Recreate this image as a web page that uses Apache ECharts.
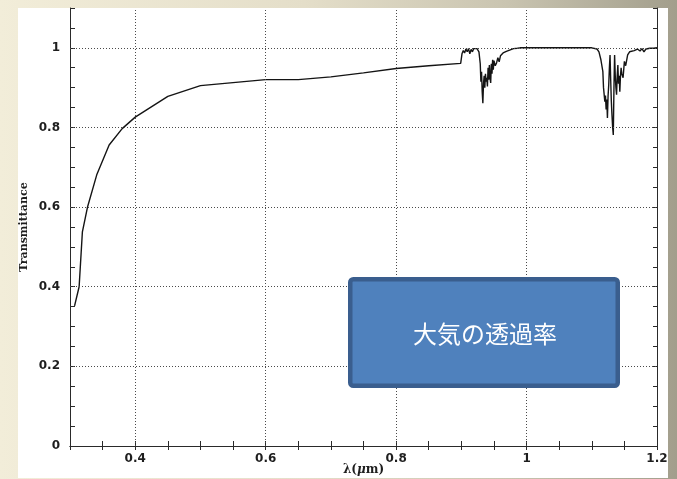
<!DOCTYPE html>
<html>
<head>
<meta charset="utf-8">
<script src="https://cdn.jsdelivr.net/npm/echarts@6/dist/echarts.min.js"></script>
<style>
  html, body { margin: 0; padding: 0; }
  body {
    width: 677px; height: 479px; overflow: hidden; position: relative;
    background: linear-gradient(to right, #f2edd9 0%, #e4dec9 45%, #c9c4b0 75%, #a29e8c 100%);
  }
  #panel { position: absolute; left: 18px; top: 8px; width: 650px; height: 470px; background: #ffffff; }
  #chart { position: absolute; left: 0; top: 0; width: 677px; height: 479px; }
</style>
</head>
<body>
<div id="panel"></div>
<div id="chart"></div>
<script>
// Wavelength (µm) and atmospheric transmittance
const wavelength = [
  0.307, 0.310, 0.314, 0.319, 0.327, 0.341, 0.360, 0.380, 0.400, 0.450,
  0.500, 0.600, 0.650, 0.700, 0.750, 0.800, 0.850, 0.899,
  0.901, 0.903, 0.905, 0.907, 0.909, 0.911, 0.913, 0.915, 0.917, 0.919,
  0.921, 0.924, 0.927, 0.929, 0.930, 0.931, 0.932, 0.933, 0.934, 0.935,
  0.936, 0.937, 0.938, 0.939, 0.940, 0.941, 0.942, 0.943, 0.944, 0.945,
  0.946, 0.947, 0.948, 0.949, 0.950, 0.952, 0.954, 0.956, 0.958, 0.960,
  0.962, 0.964, 0.966, 0.969, 0.972, 0.975, 0.980, 0.986, 0.990, 1.050,
  1.100, 1.108, 1.111, 1.114, 1.115, 1.117, 1.118, 1.120, 1.121, 1.122,
  1.123, 1.124, 1.125, 1.126, 1.127, 1.128, 1.129, 1.130, 1.131, 1.132,
  1.133, 1.134, 1.135, 1.136, 1.137, 1.138, 1.139, 1.140, 1.141, 1.142,
  1.143, 1.144, 1.145, 1.146, 1.148, 1.150, 1.152, 1.153, 1.155, 1.158,
  1.161, 1.165, 1.170, 1.174, 1.177, 1.180, 1.183, 1.186, 1.189, 1.192,
  1.195, 1.198, 1.200
];
const transmittance = [
  0.352, 0.356, 0.400, 0.538, 0.601, 0.681, 0.756, 0.797, 0.826, 0.878,
  0.905, 0.920, 0.920, 0.927, 0.937, 0.948, 0.955, 0.961,
  0.985, 0.993, 0.987, 0.997, 0.990, 0.998, 0.985, 0.996, 0.990, 0.998,
  0.995, 0.998, 0.990, 0.960, 0.915, 0.940, 0.890, 0.861, 0.910, 0.930,
  0.900, 0.935, 0.915, 0.925, 0.903, 0.950, 0.920, 0.957, 0.925, 0.912,
  0.960, 0.935, 0.970, 0.945, 0.968, 0.955, 0.962, 0.975, 0.965, 0.980,
  0.975, 0.987, 0.982, 0.991, 0.988, 0.995, 0.998, 0.999, 1.000, 1.000,
  1.000, 0.997, 0.990, 0.970, 0.960, 0.940, 0.900, 0.865, 0.880, 0.845,
  0.870, 0.824, 0.880, 0.907, 0.950, 0.982, 0.920, 0.865, 0.830, 0.800,
  0.781, 0.900, 0.982, 0.930, 0.900, 0.882, 0.930, 0.957, 0.910, 0.930,
  0.890, 0.930, 0.950, 0.935, 0.925, 0.966, 0.955, 0.950, 0.982, 0.990,
  0.995, 0.993, 0.997, 0.992, 0.998, 0.990, 0.997, 0.993, 0.999, 0.994,
  0.999, 0.997, 1.000
];
// Dotted grid positions
const gridX = [0.4, 0.6, 0.8, 1.0];
const gridY = [0.2, 0.4, 0.6, 0.8, 1.0];
const boxLabel = '大気の透過率';
const yName = 'Transmittance';

const seriesData = wavelength.map((w, i) => [w, transmittance[i]]);

const axisColor = '#2a2a2a';
const labelStyle = {
  color: '#1e1e1e', fontFamily: 'DejaVu Sans', fontWeight: 'bold', fontSize: 12
};
function fmt(v) {
  const r = Math.round(v * 100);
  return (r % 20 === 0) ? String(r / 100) : '';
}
function xFmt(v) {
  const r = Math.round(v * 100);
  return (r % 20 === 0 && r >= 40) ? String(r / 100) : '';
}

const chart = echarts.init(document.getElementById('chart'), null, { renderer: 'canvas' });
chart.setOption({
  animation: false,
  backgroundColor: 'transparent',
  grid: { left: 70, right: 20, top: 8, bottom: 33, outerBoundsMode: 'none', containLabel: false },
  xAxis: [
    {
      type: 'value', min: 0.3, max: 1.2, interval: 0.05, position: 'bottom',
      axisLine: { show: true, lineStyle: { color: axisColor, width: 1 } },
      axisTick: { show: true, inside: true, length: 5, lineStyle: { color: axisColor } },
      axisLabel: Object.assign({ formatter: xFmt, margin: 7, showMinLabel: true, showMaxLabel: true }, labelStyle),
      splitLine: { show: false },
      name: '{a|λ(}{b|μ}{a|m)}', nameLocation: 'middle', nameGap: 18, nameMoveOverlap: false,
      nameTextStyle: {
        rich: {
          a: { fontFamily: 'DejaVu Serif', fontWeight: 'bold', fontSize: 12, color: '#1e1e1e' },
          b: { fontFamily: 'DejaVu Serif', fontStyle: 'italic', fontWeight: 'bold', fontSize: 12, color: '#1e1e1e' }
        }
      }
    },
    {
      type: 'value', min: 0.3, max: 1.2, interval: 0.05, position: 'top',
      axisLine: { show: true, lineStyle: { color: axisColor, width: 1 } },
      axisTick: { show: true, inside: true, length: 4, lineStyle: { color: axisColor } },
      axisLabel: { show: false },
      splitLine: { show: false }
    }
  ],
  yAxis: [
    {
      type: 'value', min: 0, max: 1.1, interval: 0.05, position: 'left',
      axisLine: { show: true, lineStyle: { color: axisColor, width: 1 } },
      axisTick: { show: true, inside: true, length: 5, lineStyle: { color: axisColor } },
      axisLabel: Object.assign({ formatter: fmt, margin: 10 }, labelStyle),
      splitLine: { show: false },
      name: yName, nameLocation: 'middle', nameGap: 40, nameRotate: 90, nameMoveOverlap: false,
      nameTextStyle: { fontFamily: 'DejaVu Serif', fontWeight: 'bold', fontSize: 11, color: '#1e1e1e' }
    },
    {
      type: 'value', min: 0, max: 1.1, interval: 0.05, position: 'right',
      axisLine: { show: true, lineStyle: { color: axisColor, width: 1 } },
      axisTick: { show: true, inside: true, length: 4, lineStyle: { color: axisColor } },
      axisLabel: { show: false },
      splitLine: { show: false }
    }
  ],
  series: [
    {
      type: 'line', xAxisIndex: 0, yAxisIndex: 0,
      data: seriesData, showSymbol: false, symbol: 'none',
      lineStyle: { color: '#141414', width: 1.4 },
      markLine: {
        silent: true, symbol: ['none', 'none'], label: { show: false },
        lineStyle: { type: [1, 2], color: '#4a4a4a', width: 1 },
        data: gridX.map(v => ({ xAxis: v })).concat(gridY.map(v => ({ yAxis: v })))
      },
      z: 3
    }
  ],
  graphic: [
    {
      type: 'group', z: 100,
      children: [
        {
          type: 'rect', z: 100,
          shape: { x: 350.25, y: 279.25, width: 267.5, height: 106.5, r: 3 },
          style: { fill: '#4f81bd', stroke: '#3a5e8e', lineWidth: 4.5 }
        },
        {
          type: 'text', z: 101, x: 485, y: 334,
          style: {
            text: boxLabel, fill: '#ffffff', fontSize: 24,
            fontFamily: '"Noto Sans CJK JP"', align: 'center', verticalAlign: 'middle'
          }
        }
      ]
    }
  ]
});
</script>
</body>
</html>
